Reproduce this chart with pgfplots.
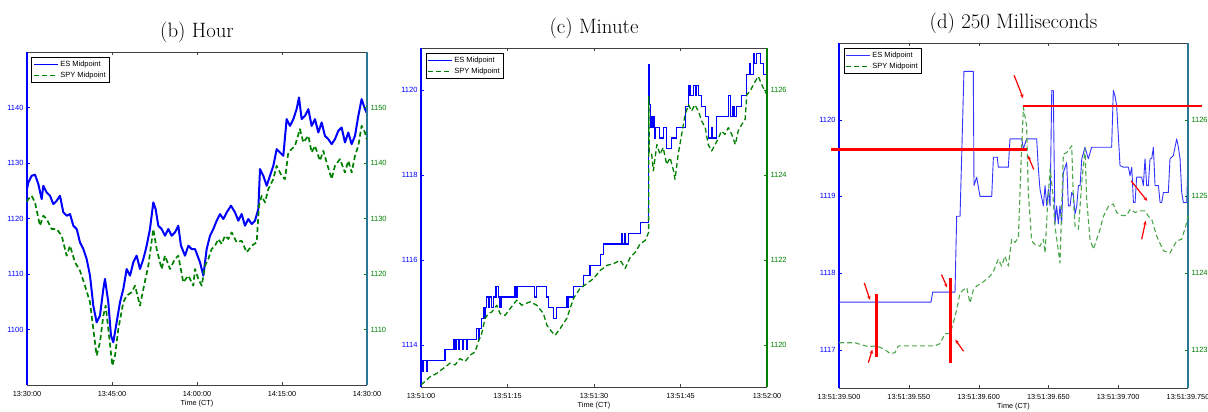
\documentclass[border=0pt]{standalone}
\usepackage{fontspec}
\usepackage{pgfplots}
\pgfplotsset{compat=1.18}
\usetikzlibrary{arrows.meta}
\newfontfamily\hel{Liberation Sans}
\definecolor{mblue}{RGB}{0,0,255}
\definecolor{mgreen}{RGB}{0,128,0}
\definecolor{mteal}{RGB}{40,120,150}
\newcommand\tickfont{\hel\fontsize{7.5}{8}\selectfont}
\pgfplotsset{
  common/.style={scale only axis, xmin=0,
    tick align=inside, major tick length=3pt,
    /pgf/number format/assume math mode=true,
    /pgf/number format/1000 sep={},
    clip=false},
  leftax/.style={common,
    axis x line*=box, axis y line*=left,
    x axis line style={black!75, line width=0.7pt},
    y axis line style={mblue, line width=1.2pt},
    xtick style={black!75}, ytick style={mblue},
    yticklabel style={mblue, font=\tickfont},
    xticklabel style={black, font=\hel\fontsize{7.3}{8}\selectfont, yshift=-3pt},
    xlabel style={font=\hel\fontsize{7.3}{8}\selectfont, yshift=3.5pt},
    title style={font=\fontsize{20.8}{24}\selectfont, yshift=0pt},
    legend style={at={(0,1)}, anchor=north west, xshift=4.5pt, yshift=-5.3pt,
      draw=black, line width=1pt, font=\hel\fontsize{7.5}{8}\selectfont,
      nodes={inner sep=2pt}, inner xsep=1.5pt, inner ysep=1.5pt},
    legend cell align=left,
    legend image code/.code={\draw[##1, line width=0.8pt] (0pt,0pt) -- (24pt,0pt);}},
  rightax/.style={common,
    axis x line=none, axis y line*=right,
    y axis line style={mgreen, line width=1.2pt},
    ytick style={mgreen},
    yticklabel style={mgreen, font=\tickfont}},
  spy/.style={mgreen, dash pattern=on 5pt off 3pt}
}
\begin{document}
\begin{tikzpicture}
\path[use as bounding box] (0,0) rectangle (1208pt,412pt);
% ---------------- (b) Hour ----------------
\begin{axis}[leftax, at={(27pt,27pt)}, width=340pt, height=333pt,
  xmax=60, ymin=1090, ymax=1150,
  xtick={0,15,30,45,60}, xticklabels={13:30:00,13:45:00,14:00:00,14:15:00,14:30:00},
  ytick={1100,1110,1120,1130,1140},
  title={(b) Hour}, xlabel={Time (CT)}]
\addplot[mblue, line width=2pt, line join=round] coordinates {
(0.0,1125.3) (0.24,1126.5) (0.82,1127.7) (1.41,1127.9) (2.0,1126.2) (2.59,1123.5)
(2.88,1125.9) (3.47,1124.7) (4.06,1124.1) (4.65,1122.6) (5.24,1123.2) (5.82,1124.1)
(6.41,1121.1) (7.0,1120.5) (7.59,1120.8) (8.18,1118.7) (8.77,1118.1) (9.35,1115.7)
(9.94,1114.5) (10.53,1112.7) (11.12,1109.7) (11.7,1104.3) (12.29,1101.3) (12.88,1102.5)
(13.47,1107.3) (13.76,1109.1) (14.35,1104.9) (14.82,1098.9) (15.23,1097.7) (15.82,1101.3)
(16.41,1104.9) (17.0,1107.3) (17.59,1110.9) (18.18,1109.7) (18.76,1112.1) (19.35,1113.3)
(19.94,1110.9) (20.53,1112.7) (21.12,1115.1) (21.7,1118.1) (22.29,1122.9) (22.7,1121.7)
(23.17,1118.7) (23.76,1118.1) (24.35,1116.9) (24.94,1118.1) (25.53,1116.9) (26.11,1117.5)
(26.7,1118.7) (27.17,1115.1) (27.88,1113.3) (28.47,1115.1) (29.05,1114.5) (29.65,1114.5)
(30.53,1112.1) (31.12,1109.7) (31.71,1114.5) (32.3,1116.9) (32.88,1118.1) (33.47,1119.6)
(34.06,1120.8) (34.65,1119.9) (35.24,1121.1) (36.0,1122.3) (36.71,1121.1) (37.3,1119.6)
(37.88,1120.8) (38.47,1118.7) (39.06,1119.9) (39.65,1119.0) (40.23,1119.6) (40.82,1121.7)
(41.12,1128.9) (41.7,1127.7) (42.29,1125.9) (42.88,1127.7) (43.47,1129.5) (44.06,1132.5)
(44.64,1131.9) (45.23,1131.3) (45.82,1137.9) (46.41,1136.7) (47.0,1137.9) (47.58,1139.7)
(48.0,1141.8) (48.47,1137.9) (49.06,1138.5) (49.65,1139.7) (50.23,1136.7) (50.82,1137.9)
(51.41,1135.5) (52.0,1137.3) (52.58,1134.9) (53.17,1134.3) (53.76,1133.4) (54.35,1134.3)
(54.94,1135.8) (55.52,1136.4) (56.11,1133.7) (56.7,1135.5) (57.29,1133.4) (57.88,1134.9)
(58.47,1138.5) (59.05,1141.5) (59.64,1139.7) (59.93,1139.1)};
\addlegendentry{ES Midpoint}
\addlegendimage{spy}
\addlegendentry{SPY Midpoint}
\end{axis}
\begin{axis}[rightax, at={(27pt,27pt)}, width=340pt, height=333pt,
  xmax=60, ymin=1100, ymax=1160, ytick={1110,1120,1130,1140,1150},
  y axis line style={mteal}]
\addplot[spy, line width=1.7pt, line join=round] coordinates {
(0.0,1133.0) (0.24,1133.5) (0.82,1134.1) (1.41,1132.9) (2.29,1128.7) (2.88,1130.5)
(3.47,1129.9) (4.35,1128.1) (5.24,1128.1) (6.12,1126.9) (7.0,1123.3) (7.59,1125.1)
(8.47,1122.1) (9.35,1120.6) (10.23,1117.9) (11.12,1114.9) (11.7,1110.1) (12.29,1105.3)
(12.88,1107.7) (13.47,1112.5) (13.88,1114.3) (14.35,1110.1) (15.06,1103.5) (15.53,1105.3)
(16.12,1110.1) (17.0,1114.9) (17.59,1116.1) (18.47,1116.7) (19.06,1117.9) (19.94,1114.3)
(20.53,1117.3) (21.41,1121.5) (22.29,1128.1) (22.88,1124.5) (23.76,1120.9) (24.35,1123.3)
(25.23,1120.9) (26.11,1122.7) (26.7,1123.3) (27.58,1118.5) (28.47,1119.7) (29.35,1117.9)
(29.65,1120.9) (30.24,1119.1) (30.83,1117.9) (31.41,1121.5) (32.0,1122.7) (32.59,1124.5)
(33.18,1125.1) (33.77,1126.3) (34.35,1125.4) (34.94,1126.9) (35.53,1126.3) (36.12,1127.5)
(37.0,1125.7) (37.88,1126.0) (38.77,1123.9) (39.65,1125.1) (40.53,1125.7) (40.94,1132.3)
(41.41,1134.1) (42.0,1132.9) (42.59,1135.3) (43.47,1137.1) (44.06,1139.5) (44.94,1137.7)
(45.53,1137.1) (46.11,1141.9) (46.7,1142.5) (47.29,1143.1) (48.17,1146.1) (48.76,1143.7)
(49.65,1144.9) (50.23,1141.9) (50.82,1143.1) (51.7,1140.4) (52.29,1142.2) (52.88,1140.1)
(53.76,1137.1) (54.35,1139.5) (55.23,1140.7) (56.11,1138.3) (56.7,1140.4) (57.29,1138.3)
(57.88,1141.3) (58.47,1143.1) (59.05,1146.7) (59.64,1145.5) (59.93,1144.3)};
\end{axis}
% ---------------- (c) Minute ----------------
\begin{axis}[leftax, at={(421pt,25pt)}, width=346pt, height=339pt,
  xmax=60, ymin=1113, ymax=1121,
  xtick={0,15,30,45,60}, xticklabels={13:51:00,13:51:15,13:51:30,13:51:45,13:52:00},
  ytick={1114,1116,1118,1120},
  title={(c) Minute}, xlabel={Time (CT)}]
\addplot[mblue, line width=1.1pt, const plot] coordinates {
(0,1113.125) (0.1,1113.625) (0.3,1113.375) (0.5,1113.625) (1.0,1113.375) (1.2,1113.625)
(4.16,1113.875) (5.6,1114.125) (5.9,1113.875) (6.1,1114.125) (6.5,1113.875) (6.7,1114.125)
(7.2,1113.875) (7.4,1114.125) (7.9,1113.875) (8.1,1114.125) (9.65,1114.375) (10.0,1114.125)
(10.2,1114.375) (10.5,1114.625) (10.8,1114.875) (11.0,1114.625) (11.2,1114.875) (11.4,1115.125)
(11.7,1114.875) (11.9,1115.125) (12.3,1114.875) (12.5,1115.125) (13.0,1115.375) (13.5,1115.125)
(13.7,1114.875) (13.9,1115.125) (16.3,1115.375) (16.6,1115.125) (16.8,1115.375) (19.7,1115.125)
(20.0,1115.375) (21.8,1115.125) (22.1,1114.875) (23.0,1114.625) (23.5,1114.875) (25.3,1115.125)
(25.45,1114.875) (25.6,1115.125) (26.4,1115.375) (28.2,1115.625) (29.3,1115.875) (31.1,1116.125)
(31.7,1116.375) (34.7,1116.625) (34.85,1116.375) (35.3,1116.625) (35.45,1116.375) (36.0,1116.625)
(38.0,1116.875) (39.45,1117.6) (39.5,1120.6) (39.6,1119.66) (39.75,1119.125) (39.9,1119.375)
(40.1,1119.125) (40.3,1119.375) (40.45,1118.875) (40.6,1119.125) (41.4,1118.875) (42.0,1119.125)
(42.6,1118.625) (43.5,1118.875) (44.3,1119.125) (45.8,1119.625) (46.4,1120.125) (46.65,1119.875)
(47.2,1120.125) (47.6,1119.875) (47.8,1120.125) (48.1,1119.875) (48.7,1119.625) (49.3,1119.375)
(49.8,1118.875) (50.3,1119.125) (50.6,1118.875) (51.3,1119.375) (53.4,1119.875) (53.6,1119.375)
(54.1,1119.625) (54.3,1119.375) (54.7,1119.625) (55.6,1119.875) (56.5,1120.375) (56.9,1120.625)
(57.2,1120.375) (57.6,1120.875) (57.9,1120.625) (58.2,1120.875) (58.8,1120.625) (59.4,1120.375)
(60,1120.375)};
\addlegendentry{ES Midpoint}
\addlegendimage{spy}
\addlegendentry{SPY Midpoint}
\end{axis}
\begin{axis}[rightax, at={(421pt,25pt)}, width=346pt, height=339pt,
  xmax=60, ymin=1119, ymax=1127, ytick={1120,1122,1124,1126}]
\addplot[spy, line width=1.3pt, line join=round] coordinates {
(0,1119.05) (0.69,1119.13) (1.56,1119.24) (2.72,1119.32) (3.88,1119.44) (5.03,1119.56)
(5.9,1119.52) (6.77,1119.67) (7.64,1119.6) (8.51,1119.75) (9.38,1119.83) (9.95,1120.07)
(10.53,1120.26) (11.11,1120.62) (11.69,1120.73) (12.27,1120.77) (13.14,1120.93) (13.72,1120.73)
(14.58,1120.69) (15.45,1120.85) (16.61,1121.05) (17.48,1120.93) (18.92,1121.01) (20.08,1120.93)
(21.24,1120.73) (21.82,1120.46) (22.69,1120.3) (23.26,1120.22) (24.13,1120.38) (25.29,1120.62)
(26.45,1121.09) (27.6,1121.33) (28.76,1121.44) (29.92,1121.56) (31.08,1121.75) (32.23,1121.87)
(33.39,1121.91) (34.55,1121.99) (35.42,1121.8) (36.28,1122.06) (37.15,1122.18) (38.02,1122.38)
(38.89,1122.46) (39.47,1122.65) (39.5,1125.86) (39.6,1124.5) (40.0,1124.49) (40.3,1124.1)
(40.9,1124.72) (41.45,1124.49) (42.0,1124.65) (42.6,1124.25) (43.2,1124.41) (43.8,1124.1)
(44.05,1123.9) (44.6,1124.49) (45.2,1124.96) (45.8,1125.43) (46.4,1125.66) (46.9,1125.51)
(47.5,1125.66) (48.1,1125.51) (48.7,1125.27) (49.3,1125.12) (49.8,1124.72) (50.4,1124.57)
(51.0,1124.72) (51.6,1124.88) (52.1,1125.04) (52.7,1124.96) (53.3,1125.12) (53.9,1124.96)
(54.5,1124.72) (55.0,1125.04) (55.6,1125.19) (56.2,1125.31) (56.5,1125.90) (57.05,1125.98)
(57.9,1126.2) (58.5,1126.33) (59.1,1126.13) (59.65,1125.98) (60,1125.9)};
\end{axis}
% ---------------- (d) 250 Milliseconds ----------------
\begin{axis}[leftax, at={(839pt,24pt)}, width=349pt, height=345pt,
  xmax=250, ymin=1116.5, ymax=1121,
  xtick={0,50,100,150,200,250},
  xticklabels={13:51:39.500,13:51:39.550,13:51:39.600,13:51:39.650,13:51:39.700,13:51:39.750},
  ytick={1117,1118,1119,1120},
  title={(d) 250 Milliseconds}, xlabel={Time (CT)}]
\addplot[mblue!80!white, line width=0.9pt, line join=round] coordinates {
(0,1117.62) (65.9,1117.62) (67.1,1117.75) (83.1,1117.75) (84.3,1118.74) (86.7,1118.74)
(88.0,1119.6) (89.5,1120.63) (96.2,1120.63) (96.7,1119.14) (98.6,1119.25) (101.0,1119.0)
(109.4,1119.0) (110.6,1119.51) (113.4,1119.51) (114.1,1119.38) (121.3,1119.38) (122.5,1119.75)
(130.9,1119.75) (132.1,1119.62) (134.4,1119.75) (141.6,1119.75) (142.8,1119.36) (144.0,1119.09)
(146.4,1118.875) (147.6,1119.14) (148.8,1118.875) (150.0,1119.09) (151.2,1118.875) (152.4,1120.38)
(153.5,1120.38) (154.7,1118.64) (155.9,1118.875) (157.1,1118.64) (158.3,1118.875) (159.5,1118.64)
(160.7,1119.31) (163.1,1119.44) (164.3,1118.875) (165.5,1118.875) (166.7,1119.05) (167.9,1119.01)
(169.1,1118.77) (170.3,1118.875) (171.5,1119.14) (172.7,1119.14) (173.9,1119.49) (176.2,1119.64)
(178.6,1119.49) (181.0,1119.64) (195.3,1119.64) (196.5,1120.38) (197.7,1120.31) (198.9,1120.18)
(201.3,1119.40) (203.7,1119.38) (207.3,1119.38) (208.5,1119.27) (209.7,1119.38) (210.9,1118.92)
(212.1,1118.92) (213.2,1119.25) (216.8,1119.25) (218.0,1119.14) (219.2,1119.49) (220.4,1119.14)
(221.6,1119.14) (222.8,1119.49) (224.0,1119.49) (225.2,1119.64) (226.4,1119.14) (228.8,1119.14)
(230.0,1118.92) (231.2,1118.92) (232.4,1119.05) (235.9,1119.05) (237.1,1119.49) (239.5,1119.53)
(241.9,1119.75) (243.1,1119.64) (244.3,1119.49) (245.5,1119.05) (246.7,1118.92) (249.1,1118.92)
(250,1119.49)};
\addlegendentry{ES Midpoint}
\addlegendimage{spy}
\addlegendentry{SPY Midpoint}
\end{axis}
\begin{axis}[rightax, at={(839pt,24pt)}, width=349pt, height=345pt,
  xmax=250, ymin=1122.5, ymax=1127, ytick={1123,1124,1125,1126},
  y axis line style={mteal}]
\addplot[spy, line width=1.1pt, line join=round, draw=mgreen!70!white] coordinates {
(0,1123.09) (11.5,1123.09) (15.0,1123.07) (21.0,1123.04) (27.0,1123.05) (33.0,1123.0)
(36.5,1122.95) (40.1,1122.96) (42.5,1123.05) (47.3,1123.05) (68.8,1123.05) (72.4,1123.08)
(75.9,1123.21) (79.5,1123.21) (81.9,1123.35) (84.3,1123.52) (86.7,1123.74) (89.1,1123.78)
(91.5,1123.81) (93.8,1123.61) (96.2,1123.78) (98.6,1123.83) (102.2,1123.87) (105.8,1123.92)
(108.2,1123.96) (110.6,1124.02) (114.1,1124.18) (116.5,1124.09) (118.9,1124.22) (121.3,1124.09)
(123.7,1124.44) (126.1,1124.40) (128.5,1124.46) (130.5,1125.49) (132.1,1126.16) (134.4,1125.92)
(135.6,1125.05) (136.8,1124.74) (138.0,1124.42) (140.4,1124.37) (144.0,1124.35) (146.4,1124.44)
(147.6,1124.26) (149.2,1124.83) (151.2,1125.36) (153.1,1125.05) (154.7,1124.61) (158.3,1124.13)
(160.7,1125.55) (163.1,1125.57) (166.7,1125.66) (167.9,1124.96) (169.1,1124.61) (171.5,1124.57)
(173.9,1125.18) (176.2,1125.62) (177.4,1124.96) (179.8,1124.44) (182.2,1124.31) (184.6,1124.44)
(187.0,1124.57) (189.4,1124.74) (193.0,1124.87) (196.5,1124.90) (198.9,1124.79) (202.5,1124.75)
(206.1,1124.75) (208.5,1124.83) (212.0,1124.79) (215.6,1124.81) (219.2,1124.81) (221.6,1124.74)
(224.0,1124.70) (227.6,1124.48) (232.4,1124.29) (237.1,1124.26) (241.9,1124.42) (245.5,1124.44)
(249.1,1124.66) (250,1124.75)};
% red annotations
\addplot[red, line width=2.6pt] coordinates {(-5.7,1125.61) (134.7,1125.61)};
\addplot[red, line width=2.6pt] coordinates {(132.0,1126.18) (260,1126.18)};
\addplot[red, line width=2.6pt] coordinates {(27.0,1123.72) (27.0,1122.91)};
\addplot[red, line width=2.6pt] coordinates {(80.0,1123.94) (80.0,1122.83)};
\addplot[red, line width=1.2pt, -{Stealth[length=4pt,width=3.5pt]}] coordinates {(18.1,1123.87) (22.2,1123.65)};
\addplot[red, line width=1.2pt, -{Stealth[length=4pt,width=3.5pt]}] coordinates {(21.0,1122.83) (23.9,1123.0)};
\addplot[red, line width=1.2pt, -{Stealth[length=4pt,width=3.5pt]}] coordinates {(73.4,1123.98) (77.5,1123.81)};
\addplot[red, line width=1.2pt, -{Stealth[length=4pt,width=3.5pt]}] coordinates {(89.2,1122.98) (83.3,1123.13)};
\addplot[red, line width=1.2pt, -{Stealth[length=4pt,width=3.5pt]}] coordinates {(125.4,1126.58) (131.9,1126.28)};
\addplot[red, line width=1.2pt, -{Stealth[length=4pt,width=3.5pt]}] coordinates {(139.5,1125.35) (135.4,1125.53)};
\addplot[red, line width=1.2pt, -{Stealth[length=4pt,width=3.5pt]}] coordinates {(209.3,1125.20) (220.8,1124.94)};
\addplot[red, line width=1.2pt, -{Stealth[length=4pt,width=3.5pt]}] coordinates {(216.8,1124.44) (219.7,1124.68)};
\end{axis}
\end{tikzpicture}
\end{document}
